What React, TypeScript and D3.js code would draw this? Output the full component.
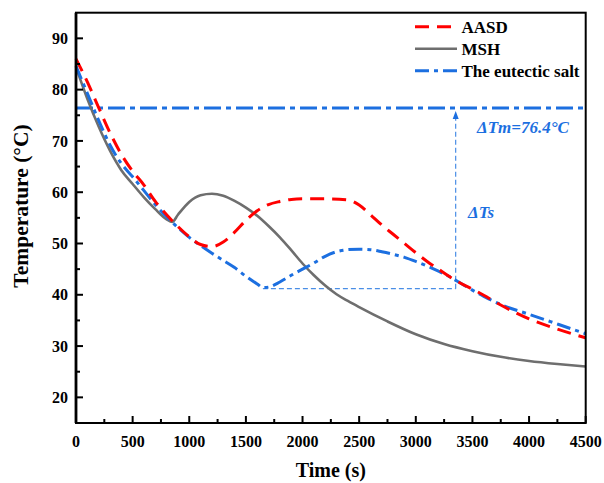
import React from "react";
import * as d3 from "d3";

// Cooling curves: time (s) vs temperature (°C)
const aasdTime = [0, 100, 200, 300, 400, 500, 600, 700, 800, 900, 1000, 1100, 1200, 1300, 1400, 1500, 1600, 1700, 1800, 1900, 2000, 2200, 2400, 2500, 2600, 2700, 2800, 2900, 3000, 3100, 3200, 3300, 3400, 3500, 3600, 3750, 4000, 4250, 4500];
const aasdTemp = [86, 81.5, 76.5, 71.6, 67.4, 64.1, 61.4, 58.2, 55.6, 53.3, 51.3, 49.8, 49.4, 50.3, 52.2, 54.5, 56.4, 57.6, 58.2, 58.6, 58.7, 58.7, 58.5, 57.5, 55.6, 53.6, 51.8, 50.0, 48.2, 46.5, 45.0, 43.5, 42.2, 41.1, 39.9, 38.0, 35.3, 33.3, 31.6];

const mshTime = [0, 100, 200, 300, 400, 500, 600, 700, 800, 850, 900, 1000, 1100, 1200, 1300, 1400, 1500, 1600, 1700, 1800, 1900, 2000, 2100, 2200, 2300, 2400, 2500, 2750, 3000, 3250, 3500, 3750, 4000, 4250, 4500];
const mshTemp = [84.4, 78.2, 72.8, 68.1, 64.3, 61.6, 59.0, 56.7, 54.7, 54.2, 55.6, 58.1, 59.4, 59.7, 59.3, 58.3, 57.0, 55.4, 53.4, 51.2, 48.7, 46.1, 43.8, 41.8, 40.1, 38.8, 37.6, 34.8, 32.3, 30.4, 29.0, 27.9, 27.1, 26.5, 26.0];

const saltTime = [0, 100, 200, 300, 400, 500, 600, 700, 800, 900, 1000, 1100, 1200, 1300, 1400, 1500, 1600, 1650, 1700, 1800, 1900, 2000, 2100, 2200, 2300, 2400, 2500, 2600, 2700, 2800, 2900, 3000, 3100, 3200, 3300, 3400, 3500, 3600, 3750, 4000, 4250, 4500];
const saltTemp = [84.6, 79.3, 74.0, 69.2, 65.6, 63.0, 60.3, 57.6, 55.2, 53.1, 51.2, 49.6, 48.1, 46.7, 45.3, 43.6, 42.1, 41.4, 41.5, 42.5, 43.8, 45.0, 46.2, 47.5, 48.4, 48.8, 48.9, 48.8, 48.4, 47.9, 47.3, 46.5, 45.6, 44.6, 43.5, 42.2, 40.9, 39.7, 38.1, 36.2, 34.3, 32.4];

const xTicks = [0, 500, 1000, 1500, 2000, 2500, 3000, 3500, 4000, 4500];
const yTicks = [20, 30, 40, 50, 60, 70, 80, 90];

// Phase-change annotation values
const meltingTemp = 76.4;
const supercoolTemp = 41.2;
const supercoolStart = 1650;
const supercoolEnd = 3352;

const legendNames = ["AASD", "MSH", "The eutectic salt"];

const RED = "#ff0000";
const GRAY = "#6e6e6e";
const BLUE = "#1c6fe0";
const THIN_BLUE = "#4a8ee6";
const SERIF = "Liberation Serif, Tinos, Times New Roman, DejaVu Serif, serif";

export default function App() {
  const W = 604;
  const H = 483;
  const m = { left: 76, right: 18.3, top: 12.7, bottom: 60 };
  const x = d3.scaleLinear().domain([0, 4500]).range([m.left, W - m.right]);
  const y = d3.scaleLinear().domain([15, 95]).range([H - m.bottom, m.top]);

  const mk = (ts: number[], vs: number[]) =>
    d3
      .line<number>()
      .x((d) => x(ts[d]))
      .y((d) => y(vs[d]))
      .curve(d3.curveMonotoneX)(ts.map((_, i) => i)) as string;

  const minorX = d3.range(250, 4500, 500);
  const minorY = d3.range(25, 95, 10);

  const x0 = x.range()[0];
  const x1 = x.range()[1];
  const y0 = y.range()[0];
  const y1 = y.range()[1];

  const legendStyles = [
    { stroke: RED, dash: "14 8", width: 3 },
    { stroke: GRAY, dash: "none", width: 2.6 },
    { stroke: BLUE, dash: "14 5 4 5", width: 3 },
  ];

  const txt = { fontFamily: SERIF, fontWeight: 700 } as React.CSSProperties;

  return (
    <svg
      width={W}
      height={H}
      style={{ position: "absolute", left: 0, top: 0, background: "#fff" }}
    >
      <rect x={0} y={0} width={W} height={H} fill="#fff" />

      {/* annotation: melting temperature and supercooling */}
      <line x1={x0} x2={x1} y1={y(meltingTemp)} y2={y(meltingTemp)} stroke={BLUE} strokeWidth={3} strokeDasharray="17 5 5 5" />
      <line x1={x(supercoolStart)} x2={x(supercoolEnd)} y1={y(supercoolTemp)} y2={y(supercoolTemp)} stroke={THIN_BLUE} strokeWidth={1.2} strokeDasharray="5 3" />
      <line x1={x(supercoolEnd)} x2={x(supercoolEnd)} y1={y(supercoolTemp)} y2={y(meltingTemp) + 8} stroke={THIN_BLUE} strokeWidth={1.2} strokeDasharray="5 3" />
      <path d={`M${x(supercoolEnd)},${y(meltingTemp) + 3} l-3,8 l6,0 z`} fill={BLUE} />

      {/* curves */}
      <path d={mk(mshTime, mshTemp)} fill="none" stroke={GRAY} strokeWidth={2.6} />
      <path d={mk(saltTime, saltTemp)} fill="none" stroke={BLUE} strokeWidth={3} strokeDasharray="14 5 4 5" />
      <path d={mk(aasdTime, aasdTemp)} fill="none" stroke={RED} strokeWidth={3} strokeDasharray="14 8" />

      <text x={477} y={133} fill={BLUE} fontSize={17} fontStyle="italic" style={txt}>
        ΔTm=76.4°C
      </text>
      <text x={468} y={218} fill={BLUE} fontSize={17} fontStyle="italic" style={txt}>
        ΔTs
      </text>

      {/* frame */}
      <rect x={x0} y={y1} width={x1 - x0} height={y0 - y1} fill="none" stroke="#000" strokeWidth={2} />
      <line x1={x0} x2={x0} y1={y1} y2={y0} stroke="#000" strokeWidth={2.8} />

      {/* x axis ticks */}
      {xTicks.map((t) => (
        <g key={"xt" + t}>
          <line x1={x(t)} x2={x(t)} y1={y0} y2={y0 - 7} stroke="#000" strokeWidth={2} />
          <text x={x(t)} y={447} textAnchor="middle" fontSize={16} style={txt}>
            {t}
          </text>
        </g>
      ))}
      {minorX.map((t) => (
        <line key={"xm" + t} x1={x(t)} x2={x(t)} y1={y0} y2={y0 - 4} stroke="#000" strokeWidth={2} />
      ))}

      {/* y axis ticks */}
      {yTicks.map((t) => (
        <g key={"yt" + t}>
          <line x1={x0} x2={x0 + 7} y1={y(t)} y2={y(t)} stroke="#000" strokeWidth={2} />
          <text x={68} y={y(t)} dy="0.35em" textAnchor="end" fontSize={16} style={txt}>
            {t}
          </text>
        </g>
      ))}
      {minorY.map((t) => (
        <line key={"ym" + t} x1={x0} x2={x0 + 4} y1={y(t)} y2={y(t)} stroke="#000" strokeWidth={2} />
      ))}

      {/* axis titles */}
      <text x={(x0 + x1) / 2} y={477} textAnchor="middle" fontSize={20} style={txt}>
        Time (s)
      </text>
      <text
        transform={`translate(28,206) rotate(-90)`}
        textAnchor="middle"
        fontSize={21.5}
        style={txt}
      >
        Temperature (°C)
      </text>

      {/* legend */}
      {legendNames.map((name, i) => {
        const ly = 26.7 + i * 22;
        const s = legendStyles[i];
        return (
          <g key={name}>
            <line x1={415} x2={457} y1={ly} y2={ly} stroke={s.stroke} strokeWidth={s.width} strokeDasharray={s.dash} />
            <text x={461.5} y={ly} dy="0.35em" fontSize={17} style={txt}>
              {name}
            </text>
          </g>
        );
      })}
    </svg>
  );
}
